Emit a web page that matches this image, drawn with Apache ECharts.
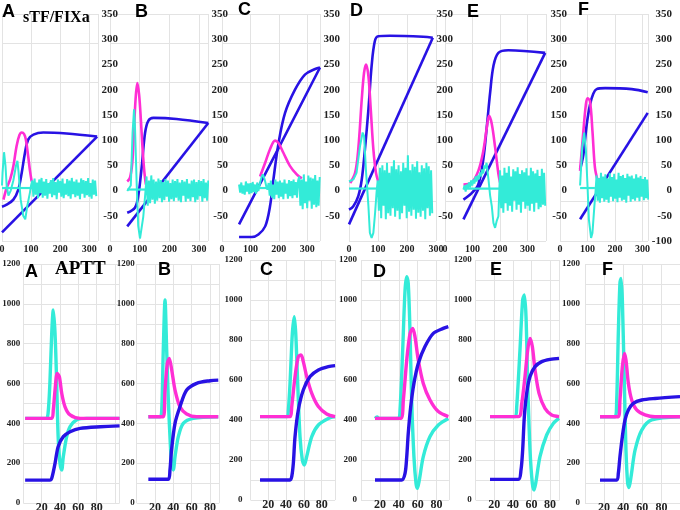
<!DOCTYPE html>
<html><head><meta charset="utf-8">
<script src="https://cdn.jsdelivr.net/npm/echarts@6/dist/echarts.min.js"></script>
<style>html,body{margin:0;padding:0;background:#fff}#c{width:680px;height:510px}</style>
</head><body><div id="c"></div><script>
// ---------- tick labels ----------
const topXTicks = [0, 100, 200, 300];
const topYTicks = [-50, 0, 50, 100, 150, 200, 250, 300, 350];
const topYTicksF = [-100, -50, 0, 50, 100, 150, 200, 250, 300, 350];
const botXTicks = [20, 40, 60, 80];
const botYTicks = [0, 200, 400, 600, 800, 1000, 1200];
const letters = ['A', 'B', 'C', 'D', 'E', 'F'];
const topTitle = 'sTF/FIXa';
const botTitle = 'APTT';

// ---------- top row (sTF/FIXa) ----------
const tA_blueSig = [[0,-32],[16,-28],[39,-18],[56,2],[68,36],[79,75],[90,101],[108,111],[142,115],[222,113],[327,107]];
const tA_blueLine = [[0,-83],[327,107]];
const tA_mag = [[5,-18],[16,5],[28,22],[39,48],[50,88],[60,110],[68,115],[76,112],[82,101],[90,68],[96,40],[102,18]];
const tA_cyanPre = [[0,10],[2,36],[7,76],[12,49],[16,10],[22,-10],[30,0],[39,20],[48,49],[53,59],[57,36],[64,-17],[73,-50],[80,-57],[87,-30],[96,-4],[100,10]];
const tA_cyanFlat = [[0,5],[104,5]];
const tA_noiseStart = 104;
const tA_noise = [20,-12,24,-8,16,-15,22,-5,25,-14,18,-10,23,-16,15,-6,21,-13,25,-9,17,-17,22,-4,19,-12,24,-15,14,-8,23,-11,20,-16,25,-7,18,-13,22,-10,16,-17,24,-6,21,-14,19,-9,25,-12,15,-16,22,-8,20,-11];

const tB_blueSig = [[58,-44],[84,-34],[95,-11],[107,48],[118,114],[129,138],[146,144],[224,142],[331,134]];
const tB_blueLine = [[58,-71],[331,134]];
const tB_mag = [[58,18],[67,25],[75,55],[80,110],[86,180],[92,213],[98,190],[104,140],[110,80],[116,35],[121,12]];
const tB_cyanPre = [[58,-1],[70,10],[76,115],[81,161],[84,128],[90,10],[95,-70],[101,-95],[107,-98],[112,-52],[118,-12],[121,10]];
const tB_cyanFlat = [[58,2],[146,2]];
const tB_noiseStart = 123;
const tB_noise = [28,-30,20,-25,30,-18,22,-26,18,-20,24,-15,21,-23,17,-19,23,-12,20,-22,15,-17,22,-21,19,-14,23,-20,16,-23,21,-10,18,-22,23,-16,14,-21,20,-13,22,-23,17,-18,21,-11,19,-22,23,-15,16,-20,20];

const tC_blueSig = [[60,-92],[105,-92],[128,-87],[152,-71],[169,-31],[181,22],[199,94],[222,154],[257,200],[292,230],[328,241],[345,244]];
const tC_blueLine = [[60,-67],[200,85],[345,244]];
const tC_mag = [[134,28],[152,55],[169,82],[187,99],[199,94],[216,75],[239,49],[263,32],[281,24]];
const tC_cyanPre = [];
const tC_cyanFlat = [[128,5],[181,5]];
const tC_noiseStart = 60;
const tC_noise = [12,-4,16,-6,10,-8,18,-2,14,-7,15,-5,17,-3,12,-6,16,-1,
  10,20,28,32,26,18,8,2,
  15,-10,20,-14,12,-17,22,-8,18,-15,20,-12,16,-17,22,-6,14,-16,21,-11,19,-15,22,-9,17,-14,20,
  28,-30,22,-37,32,-25,18,-35,30,-20,26,-36,24,-28,31,-33,20,-30,27];

const tD_blueSig = [[0,-38],[15,-31],[32,-11],[44,22],[55,82],[67,161],[78,247],[89,296],[101,306],[141,307],[256,305],[289,303]];
const tD_blueLine = [[0,-67],[289,303]];
const tD_mag = [[4,15],[21,35],[32,82],[44,181],[52,234],[59,250],[67,227],[75,161],[84,82],[93,35],[101,18]];
const tD_cyanPre = [[0,18],[15,22],[26,35],[38,88],[47,115],[52,108],[59,35],[67,-31],[72,-84],[78,-94],[84,-84],[90,-44],[95,-4]];
const tD_cyanFlat = [[0,4],[95,4]];
const tD_noiseStart = 99;
const tD_noise = [20,-40,45,-55,50,-30,40,-57,55,-45,35,-50,48,-35,60,-52,42,-40,50,-57,38,-45,55,-30,45,-55,70,-42,40,-50,52,-38,47,-56,58,-44,36,-52,50,-40,44,-57,55,-35,48,-50,40,-45];

const tE_blueSig = [[67,-18],[97,-5],[121,12],[139,61],[152,127],[164,194],[176,247],[194,273],[230,278],[364,273]];
const tE_blueLine = [[67,-57],[364,273]];
const tE_mag = [[67,12],[97,16],[121,39],[139,78],[152,125],[160,148],[170,132],[182,86],[194,33],[200,16]];
const tE_preNoiseStart = 67;
const tE_preNoise = [2,10,-2,12,4,16,6,20,10,22,14,28,18,30,22,36,28,42,34,50,44,55];
const tE_cyanPre = [[158,22],[164,-10],[170,-31],[176,-64],[182,-74],[188,-60],[194,-51]];
const tE_cyanFlat = [[67,4],[200,4]];
const tE_noiseStart = 200;
const tE_noise = [40,-35,30,-44,45,-25,35,-40,48,-30,28,-42,42,-20,38,-38,46,-28,33,-44,40,-22,36,-36,44,-30,30,-40,45,-26,38,-42,34,-24,41,-37,29,-33,43,-28,35,-30];

const tF_blueSig = [[73,42],[85,71],[97,130],[109,170],[121,192],[133,201],[164,203],[261,201],[319,195]];
const tF_blueLine = [[73,-57],[319,154]];
const tF_mag = [[73,39],[85,118],[94,170],[100,183],[109,177],[118,118],[127,46],[137,20]];
const tF_cyanPre = [[73,10],[81,88],[88,115],[94,82],[100,10],[105,-57],[113,-94],[118,-84],[125,-31],[129,-4]];
const tF_cyanFlat = [[73,5],[127,5]];
const tF_noiseStart = 133;
const tF_noise = [30,-20,25,-24,35,-15,28,-22,32,-18,24,-24,34,-12,27,-21,33,-16,22,-23,35,-14,29,-20,31,-18,25,-24,33,-10,28,-22,30,-17,24,-20,32,-14,26,-21,29,-12,23,-19,27,-15,22,-18];
const noiseStep = 4;

// ---------- bottom row (APTT) ----------
const bA_blue = [[2,115],[29,115],[31,124],[34.6,199],[38,283],[43.6,333],[51,358],[62,375],[84,383],[105,387]];
const bA_cyan = [[2,425],[25,425],[27,450],[29,601],[31,852],[32.7,969],[34.6,852],[36.4,601],[38,333],[40,199],[41.9,166],[43.6,232],[47.3,333],[51,383],[58,417],[69,425],[105,425]];
const bA_mag = [[2,425],[31,425],[32.7,467],[34.6,567],[37,651],[39.3,634],[41.9,551],[45.5,483],[51,442],[62,425],[105,425]];

const bB_blue = [[12.7,119],[34.5,119],[36.3,166],[38,266],[41.8,400],[47.2,483],[54.5,567],[65.4,601],[80,614],[89,617]];
const bB_cyan = [[12.7,433],[25.5,433],[27.3,467],[29,768],[30.9,1019],[32.7,768],[34.5,517],[36.3,333],[38,199],[39.9,166],[41.8,232],[45.4,333],[50.8,400],[61.7,425],[89,433]];
const bB_mag = [[12.7,433],[29,433],[30.9,567],[33.4,701],[35.5,726],[38.2,668],[41.8,567],[47.2,483],[54.5,447],[65.4,433],[89,433]];

const bC_blue = [[10.7,100],[44.4,100],[46.3,117],[48.1,183],[50,317],[53.7,450],[59.3,550],[66.9,617],[76.2,650],[87.4,667],[95,672]];
const bC_cyan = [[10.7,417],[41,417],[42.5,450],[44.4,583],[47,833],[49.2,917],[50.8,833],[53,583],[55.6,317],[58.2,200],[60.4,175],[63.1,217],[68.8,317],[76.2,375],[87.4,408],[95,417]];
const bC_mag = [[10.7,417],[44.4,417],[46.3,467],[50,617],[53.7,717],[56.7,725],[59.3,692],[63.1,617],[68.8,533],[76.2,467],[85.6,430],[95,417]];

const bD_blue = [[14.8,100],[43,100],[46.6,133],[48.4,217],[50,333],[52.6,467],[56,583],[60.6,683],[67.7,767],[76.5,833],[87,858],[92.4,867]];
const bD_cyan = [[14.8,408],[17,415],[19,408],[39.5,408],[41.3,450],[44.1,750],[46.6,1050],[48.4,1117],[50,1083],[51.9,833],[53.6,500],[56,217],[58.2,83],[59.6,58],[61.7,100],[65.9,217],[73,317],[81.8,375],[92.4,408]];
const bD_mag = [[14.8,408],[42,408],[44.8,500],[48.4,700],[51.9,833],[54.7,858],[57.1,817],[60.6,700],[65.9,583],[73,500],[81.8,442],[92.4,417]];

const bE_blue = [[15.4,103],[45.8,103],[48.7,150],[50.5,250],[52.3,417],[54.8,533],[58.4,617],[63.8,667],[71,692],[79.9,703],[89.6,708]];
const bE_cyan = [[15.4,417],[42.5,417],[44.1,467],[47.6,750],[50.5,1000],[52.3,1025],[54.1,917],[55.9,583],[58.4,250],[60.9,83],[62.7,50],[64.5,83],[69.1,217],[76.3,325],[83.4,383],[89.6,408]];
const bE_mag = [[15.4,417],[46,417],[49.5,483],[53,617],[55.9,750],[58.4,808],[60.9,767],[63.8,650],[68.1,533],[74.5,458],[81.7,425],[89.6,417]];

const bF_blue = [[15.7,115],[33.2,115],[34.9,149],[36.6,233],[39.1,333],[41.9,417],[45.4,467],[50.6,500],[59.4,517],[73.3,525],[99.5,534]];
const bF_cyan = [[15.7,433],[31.5,433],[33.2,517],[34.9,853],[36.6,1104],[37.7,1128],[39.1,1021],[41.2,601],[42.9,265],[44.7,98],[46.1,78],[48.2,132],[52.4,265],[59.4,366],[69.8,417],[99.5,433]];
const bF_mag = [[15.7,433],[34.9,433],[36.6,517],[39.1,684],[41.2,751],[42.9,718],[45.4,601],[48.9,517],[54.1,467],[62.8,442],[73.3,433],[99.5,433]];

// ---------- assembly ----------
function sampled(start, vals) { return vals.map((v, i) => [start + i * noiseStep, v]); }

const topData = [
  {sig: tA_blueSig, line: tA_blueLine, mag: tA_mag, flat: tA_cyanFlat, cyan: tA_cyanPre.concat(sampled(tA_noiseStart, tA_noise))},
  {sig: tB_blueSig, line: tB_blueLine, mag: tB_mag, flat: tB_cyanFlat, cyan: tB_cyanPre.concat(sampled(tB_noiseStart, tB_noise))},
  {sig: tC_blueSig, line: tC_blueLine, mag: tC_mag, flat: tC_cyanFlat, cyan: tC_cyanPre.concat(sampled(tC_noiseStart, tC_noise))},
  {sig: tD_blueSig, line: tD_blueLine, mag: tD_mag, flat: tD_cyanFlat, cyan: tD_cyanPre.concat(sampled(tD_noiseStart, tD_noise))},
  {sig: tE_blueSig, line: tE_blueLine, mag: tE_mag, flat: tE_cyanFlat, cyan: sampled(tE_preNoiseStart, tE_preNoise).concat(tE_cyanPre, sampled(tE_noiseStart, tE_noise))},
  {sig: tF_blueSig, line: tF_blueLine, mag: tF_mag, flat: tF_cyanFlat, cyan: tF_cyanPre.concat(sampled(tF_noiseStart, tF_noise))}
];
const botData = [
  {blue: bA_blue, cyan: bA_cyan, mag: bA_mag},
  {blue: bB_blue, cyan: bB_cyan, mag: bB_mag},
  {blue: bC_blue, cyan: bC_cyan, mag: bC_mag},
  {blue: bD_blue, cyan: bD_cyan, mag: bD_mag},
  {blue: bE_blue, cyan: bE_cyan, mag: bE_mag},
  {blue: bF_blue, cyan: bF_cyan, mag: bF_mag}
];

// layout (pixels)
const topLayout = [
  {left: 2, width: 96, max: 330, m: 20},
  {left: 110, width: 98, max: 330, m: 20},
  {left: 222, width: 98, max: 345, m: 20},
  {left: 349, width: 87, max: 300, m: 17},
  {left: 445, width: 101, max: 367, m: 21},
  {left: 560, width: 88, max: 320, m: 24}
];
const botLayout = [
  {left: 23.3, width: 96.3, max: 105, top: 264, height: 239, m: 3},
  {left: 136.7, width: 82.5, max: 90, top: 264, height: 239, m: 2},
  {left: 250.5, width: 84.6, max: 95, top: 260, height: 240, m: 8},
  {left: 361, width: 87.9, max: 93, top: 260, height: 240, m: 4},
  {left: 475.7, width: 83.7, max: 90, top: 260, height: 240, m: 4},
  {left: 585, width: 95.5, max: 100, top: 264, height: 239, m: 5}
];
const letterPos = {
  top: [[2,3],[135,3],[238,1],[350,2],[467,3],[578,1]],
  bot: [[25,263],[158,261],[260,261],[373,263],[490,261],[602,261]]
};

const BLUE = '#2812e4', MAG = '#ff2ed4', CYAN = '#33ebd8';
const GRID = '#e3e3e3';
const numFont = {fontFamily: '"Liberation Serif","DejaVu Serif",serif', fontWeight: 'bold', color: '#222'};

const grid = [], xAxis = [], yAxis = [], series = [], title = [];

topLayout.forEach((L, i) => {
  grid.push({left: L.left, width: L.width, top: 14, height: 227, outerBoundsMode: 'none', containLabel: false});
  xAxis.push({type: 'value', gridIndex: i, min: 0, max: L.max, interval: 100,
    axisLine: {show: false}, axisTick: {show: false},
    splitLine: {show: true, lineStyle: {color: GRID, width: 1}},
    axisLabel: Object.assign({fontSize: 10, margin: 3, showMaxLabel: true,
      formatter: v => topXTicks.includes(v) ? String(v) : ''}, numFont)});
  const yt = i === 5 ? topYTicksF : topYTicks;
  const yLabIdx = yAxis.length;
  yAxis.push({type: 'value', gridIndex: i, position: 'right', min: -100, max: 350, interval: 50,
    axisLine: {show: false}, axisTick: {show: false}, splitLine: {show: false},
    axisLabel: Object.assign({fontSize: 11, margin: L.m, align: 'right',
      formatter: v => yt.includes(v) ? String(v) : ''}, numFont)});
  yAxis.push({type: 'value', gridIndex: i, position: 'left', min: 0, max: 5.73, interval: 1,
    axisLine: {show: false}, axisTick: {show: false}, axisLabel: {show: false},
    splitLine: {show: true, lineStyle: {color: GRID, width: 1}}});
  const d = topData[i];
  const base = {type: 'line', xAxisIndex: i, yAxisIndex: yLabIdx, symbol: 'none', showSymbol: false, silent: true, animation: false};
  series.push(Object.assign({}, base, {data: d.line, lineStyle: {color: BLUE, width: 2.6}}));
  series.push(Object.assign({}, base, {data: d.sig, smooth: 0.35, lineStyle: {color: BLUE, width: 2.6}}));
  series.push(Object.assign({}, base, {data: d.mag, smooth: 0.35, lineStyle: {color: MAG, width: 2.6}}));
  series.push(Object.assign({}, base, {data: d.flat, lineStyle: {color: CYAN, width: 2.2}}));
  series.push(Object.assign({}, base, {data: d.cyan, lineStyle: {color: CYAN, width: 2}}));
  title.push({text: letters[i], left: letterPos.top[i][0], top: letterPos.top[i][1], padding: 0,
    textStyle: {fontFamily: '"Liberation Sans",Arial,sans-serif', fontWeight: 'bold', fontSize: 18, color: '#000'}});
});

botLayout.forEach((L, j) => {
  const gi = 6 + j;
  grid.push({left: L.left, width: L.width, top: L.top, height: L.height, outerBoundsMode: 'none', containLabel: false});
  xAxis.push({type: 'value', gridIndex: gi, min: 0, max: L.max, interval: 20,
    axisLine: {show: false}, axisTick: {show: false},
    splitLine: {show: true, lineStyle: {color: GRID, width: 1}},
    axisLabel: Object.assign({fontSize: 12, margin: -1,
      formatter: v => botXTicks.includes(v) ? String(v) : ''}, numFont)});
  const yIdx = yAxis.length;
  yAxis.push({type: 'value', gridIndex: gi, position: 'left', min: 0, max: 1200, interval: 100,
    axisLine: {show: false}, axisTick: {show: false},
    splitLine: {show: true, lineStyle: {color: GRID, width: 1}},
    axisLabel: Object.assign({fontSize: 9, margin: L.m,
      formatter: v => botYTicks.includes(v) ? String(v) : ''}, numFont)});
  const d = botData[j];
  const base = {type: 'line', xAxisIndex: gi, yAxisIndex: yIdx, symbol: 'none', showSymbol: false, silent: true, animation: false, smooth: 0.3};
  series.push(Object.assign({}, base, {data: d.cyan, lineStyle: {color: CYAN, width: 3.4}}));
  series.push(Object.assign({}, base, {data: d.mag, lineStyle: {color: MAG, width: 3.4}}));
  series.push(Object.assign({}, base, {data: d.blue, lineStyle: {color: BLUE, width: 3.4}}));
  title.push({text: letters[j], left: letterPos.bot[j][0], top: letterPos.bot[j][1], padding: 0,
    textStyle: {fontFamily: '"Liberation Sans",Arial,sans-serif', fontWeight: 'bold', fontSize: 18, color: '#000'}});
});

title.push({text: topTitle, left: 23, top: 10, padding: 0,
  textStyle: {fontFamily: '"Liberation Serif","Times New Roman",serif', fontWeight: 'bold', fontSize: 16, color: '#000'}});
title.push({text: botTitle, left: 55, top: 260, padding: 0,
  textStyle: {fontFamily: '"Liberation Serif","Times New Roman",serif', fontWeight: 'bold', fontSize: 19, color: '#000'}});

const chart = echarts.init(document.getElementById('c'), null, {renderer: 'canvas'});
chart.setOption({animation: false, backgroundColor: '#fff', title, grid, xAxis, yAxis, series});
</script></body></html>
